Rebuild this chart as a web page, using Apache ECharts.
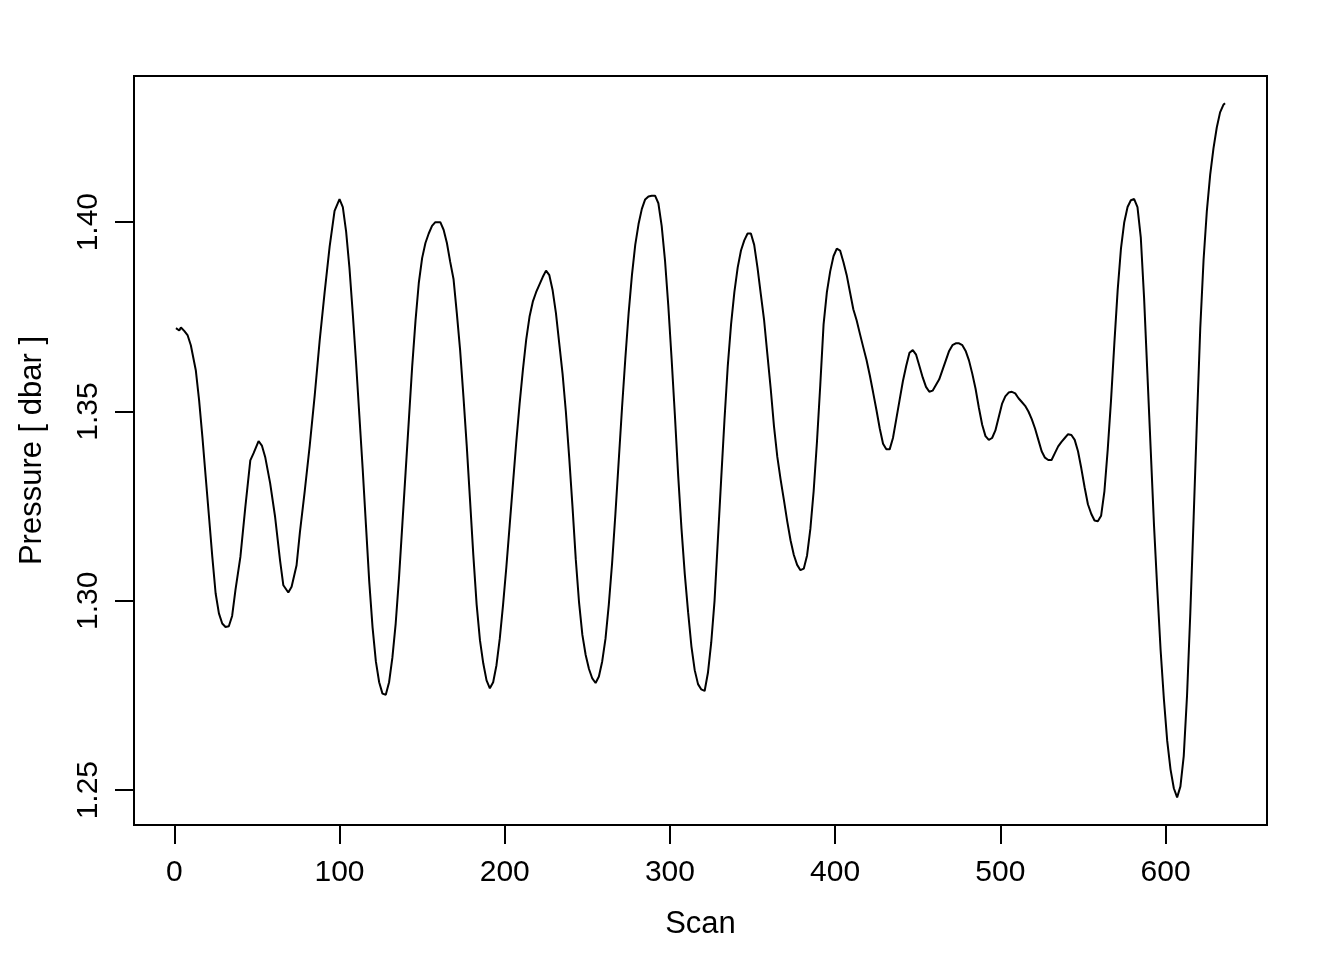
<!DOCTYPE html>
<html>
<head>
<meta charset="utf-8">
<script src="https://cdn.jsdelivr.net/npm/echarts@6/dist/echarts.min.js"></script>
<style>
html,body{margin:0;padding:0;background:#fff;}
#chart{width:1344px;height:960px;}
</style>
</head>
<body>
<div id="chart"></div>
<script>
// Scan numbers (x) and pressure values (y)
const scans = [1,3,4,6,8,10,13,15,17,19,21,23,25,27,29,31,33,35,37,40,43,46,48,51,53,55,58,61,64,66,69,71,74,76,79,82,85,88,91,94,97,100,102,104,106,108,110,112,114,116,118,120,122,124,126,128,130,132,134,136,138,140,142,144,146,148,150,152,154,156,158,161,163,165,167,169,171,173,175,177,179,181,183,185,187,189,191,193,195,197,199,201,203,205,207,209,211,213,215,217,219,221,223,225,227,229,231,233,235,237,239,241,243,245,247,249,251,253,255,257,259,261,263,265,267,269,271,273,275,277,279,281,283,285,287,289,291,293,295,297,299,301,303,305,307,309,311,313,315,317,319,321,323,325,327,329,331,333,335,337,339,341,343,345,347,349,351,353,355,357,359,361,363,365,367,369,371,373,375,377,379,381,383,385,387,389,391,393,395,397,399,401,403,405,407,409,411,413,415,417,419,421,423,425,427,429,431,433,435,437,439,441,443,445,447,449,451,453,455,457,459,461,463,465,467,469,471,473,475,477,479,481,483,485,487,489,491,493,495,497,499,501,503,505,507,509,511,513,515,517,519,521,523,525,527,529,531,533,535,537,539,541,543,545,547,549,551,553,555,557,559,561,563,565,567,569,571,573,575,577,579,581,583,585,587,589,591,593,595,597,599,601,603,605,607,609,611,613,615,617,619,621,623,625,627,629,631,633,635,636];
const pressure = [1.3720,1.3714,1.3722,1.3713,1.3702,1.3675,1.3609,1.3530,1.3433,1.3327,1.3222,1.3116,1.3020,1.2967,1.2940,1.2931,1.2933,1.2960,1.3028,1.3116,1.3248,1.3371,1.3390,1.3422,1.3410,1.3380,1.3311,1.3222,1.3107,1.3041,1.3022,1.3037,1.3094,1.3180,1.3292,1.3411,1.3543,1.3688,1.3815,1.3935,1.4030,1.4061,1.4040,1.3975,1.3880,1.3760,1.3630,1.3490,1.3350,1.3200,1.3050,1.2930,1.2840,1.2785,1.2755,1.2752,1.2785,1.2850,1.2940,1.3060,1.3200,1.3340,1.3480,1.3620,1.3740,1.3840,1.3905,1.3945,1.3970,1.3990,1.4000,1.4000,1.3980,1.3945,1.3895,1.3850,1.3760,1.3662,1.3540,1.3410,1.3266,1.3120,1.2990,1.2896,1.2835,1.2790,1.2769,1.2785,1.2830,1.2900,1.2990,1.3090,1.3200,1.3310,1.3420,1.3520,1.3610,1.3690,1.3750,1.3790,1.3815,1.3835,1.3855,1.3872,1.3860,1.3820,1.3760,1.3680,1.3600,1.3500,1.3380,1.3250,1.3110,1.2995,1.2910,1.2857,1.2820,1.2795,1.2783,1.2800,1.2840,1.2900,1.2990,1.3100,1.3230,1.3370,1.3510,1.3640,1.3760,1.3860,1.3940,1.3995,1.4035,1.4060,1.4068,1.4070,1.4070,1.4050,1.3990,1.3900,1.3780,1.3640,1.3490,1.3330,1.3190,1.3070,1.2970,1.2880,1.2817,1.2780,1.2766,1.2762,1.2810,1.2890,1.3000,1.3160,1.3320,1.3477,1.3620,1.3730,1.3815,1.3880,1.3925,1.3952,1.3970,1.3970,1.3940,1.3880,1.3810,1.3741,1.3650,1.3560,1.3460,1.3380,1.3320,1.3266,1.3210,1.3160,1.3121,1.3095,1.3081,1.3085,1.3120,1.3190,1.3290,1.3420,1.3570,1.3730,1.3815,1.3870,1.3910,1.3930,1.3925,1.3895,1.3860,1.3815,1.3770,1.3741,1.3705,1.3670,1.3636,1.3595,1.3550,1.3504,1.3455,1.3415,1.3400,1.3400,1.3430,1.3480,1.3530,1.3580,1.3620,1.3655,1.3662,1.3650,1.3620,1.3590,1.3565,1.3552,1.3555,1.3570,1.3585,1.3610,1.3635,1.3660,1.3675,1.3680,1.3680,1.3675,1.3660,1.3635,1.3600,1.3560,1.3510,1.3465,1.3435,1.3425,1.3430,1.3450,1.3485,1.3520,1.3540,1.3550,1.3552,1.3548,1.3535,1.3525,1.3515,1.3500,1.3480,1.3455,1.3425,1.3395,1.3378,1.3372,1.3372,1.3390,1.3408,1.3420,1.3430,1.3440,1.3438,1.3425,1.3395,1.3350,1.3300,1.3255,1.3230,1.3212,1.3210,1.3225,1.3290,1.3400,1.3530,1.3680,1.3820,1.3930,1.4000,1.4040,1.4058,1.4061,1.4040,1.3960,1.3800,1.3600,1.3400,1.3200,1.3030,1.2870,1.2740,1.2630,1.2555,1.2505,1.2481,1.2510,1.2590,1.2750,1.2970,1.3220,1.3477,1.3720,1.3900,1.4030,1.4125,1.4195,1.4250,1.4290,1.4310,1.4314];
const xTicks = [0,100,200,300,400,500,600];
const yTicks = [1.25,1.30,1.35,1.40];
const xLabel = 'Scan';
const yLabel = 'Pressure [ dbar ]';

const seriesData = scans.map((s, i) => [s, pressure[i]]);
const FONT = 'Liberation Sans, Arial, Helvetica, sans-serif';

const chart = echarts.init(document.getElementById('chart'), null, {renderer: 'canvas'});
chart.setOption({
  animation: false,
  backgroundColor: '#fff',
  grid: {left: 134, right: 77, top: 76, bottom: 135, show: true, borderColor: '#000', borderWidth: 2, backgroundColor: 'transparent'},
  xAxis: {
    type: 'value', min: -24.4, max: 661.4,
    name: xLabel, nameLocation: 'middle', nameGap: 84,
    nameTextStyle: {color: '#000', fontSize: 31, fontFamily: FONT},
    axisLine: {show: false, onZero: false},
    axisTick: {show: true, length: 19, inside: false, customValues: xTicks, lineStyle: {color: '#000', width: 2}},
    axisLabel: {show: true, customValues: xTicks, margin: 33, color: '#000', fontSize: 30, fontFamily: FONT},
    splitLine: {show: false}
  },
  yAxis: {
    type: 'value', min: 1.2408, max: 1.4386,
    name: yLabel, nameLocation: 'middle', nameGap: 86, nameRotate: 90,
    nameTextStyle: {color: '#000', fontSize: 31, fontFamily: FONT},
    axisLine: {show: false, onZero: false},
    axisTick: {show: true, length: 19, inside: false, customValues: yTicks, lineStyle: {color: '#000', width: 2}},
    axisLabel: {show: true, customValues: yTicks, rotate: 90, margin: 30, color: '#000', fontSize: 30, fontFamily: FONT,
      formatter: v => v.toFixed(2)},
    splitLine: {show: false}
  },
  series: [{
    type: 'line', data: seriesData, showSymbol: false, symbol: 'none',
    lineStyle: {color: '#000', width: 2}, smooth: false, clip: true
  }]
});
</script>
</body>
</html>
